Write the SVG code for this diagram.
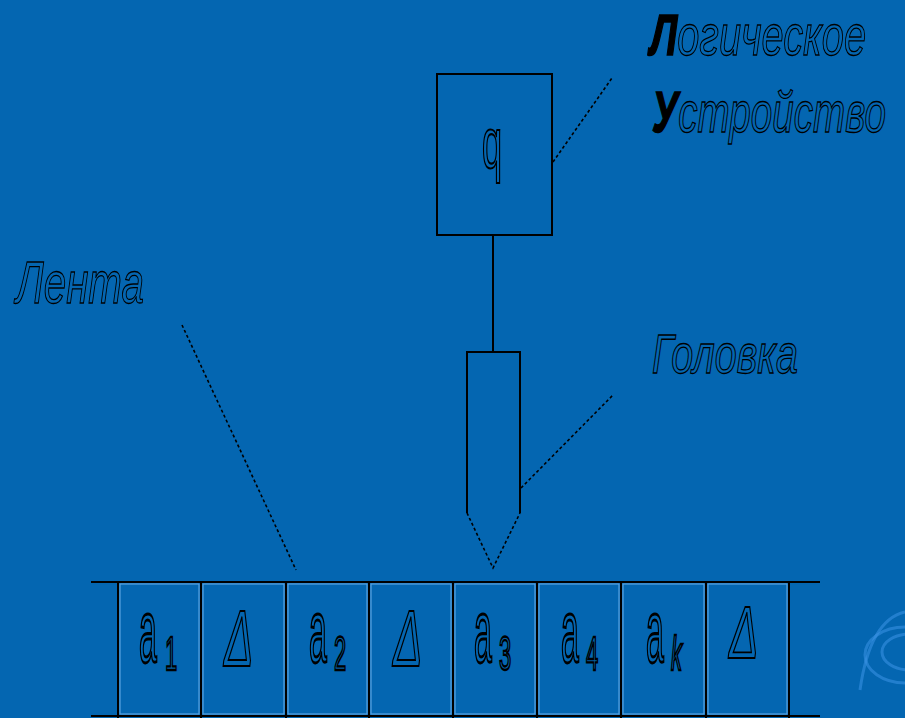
<svg xmlns="http://www.w3.org/2000/svg" width="905" height="718" viewBox="0 0 905 718">
<style>
.ln{stroke:#000;stroke-width:2;fill:none}
.dot{stroke:#000;stroke-width:1.6;fill:none;stroke-dasharray:3 2.5}
.lbl{font-family:"Liberation Sans",Arial,sans-serif;font-style:italic;fill:none;stroke:#000;stroke-width:1.1;vector-effect:non-scaling-stroke}
.cap{fill:#000}
.cell{fill:none;stroke:#5aa2e0;stroke-width:1.2}
.sym{font-family:"Liberation Sans",Arial,sans-serif;fill:none;stroke:#000;stroke-width:1.1}
.sw{fill:none;stroke:#3d93e6;stroke-opacity:0.55;stroke-width:3}
</style>
<rect width="905" height="718" fill="#0466b1"/>
<g id="decor">
<ellipse class="sw" cx="905" cy="655" rx="40" ry="28"/>
<ellipse class="sw" cx="910" cy="652" rx="28" ry="18"/>
<path class="sw" d="M860,690 Q870,620 905,612"/>
</g>
<g id="labels">
<text class="lbl" transform="translate(650,55) scale(1,1.45)" textLength="216" lengthAdjust="spacingAndGlyphs" font-size="40"><tspan class="cap" font-weight="bold">Л</tspan>огическое</text>
<text class="lbl" transform="translate(652,132) scale(1,1.45)" textLength="234" lengthAdjust="spacingAndGlyphs" font-size="40"><tspan class="cap" font-weight="bold">У</tspan>стройство</text>
<text class="lbl" transform="translate(16,303) scale(1,1.4)" textLength="128" lengthAdjust="spacingAndGlyphs" font-size="42">Лента</text>
<text class="lbl" transform="translate(652,373) scale(1,1.4)" textLength="146" lengthAdjust="spacingAndGlyphs" font-size="40">Головка</text>
</g>
<g id="logic-device">
<rect class="ln" x="437" y="74" width="115" height="161"/>
<text class="sym" transform="translate(482,168) scale(1,2)" font-size="36">q</text>
</g>
<g id="head">
<path class="ln" d="M467,513 V352 H520 V513"/>
<path class="dot" d="M467,513 L493,568 L520,513"/>
</g>
<g id="connectors">
<line class="ln" x1="493" y1="235" x2="493" y2="352"/>
<line class="dot" x1="553" y1="162" x2="612" y2="78"/>
<line class="dot" x1="521" y1="488" x2="613" y2="395"/>
<line class="dot" x1="182" y1="325" x2="296" y2="570"/>
</g>
<g id="tape">
<line class="ln" x1="91" y1="582" x2="820" y2="582"/>
<line class="ln" x1="91" y1="716" x2="820" y2="716"/>
<g class="ln">
<line x1="118" y1="582" x2="118" y2="718"/>
<line x1="201" y1="582" x2="201" y2="718"/>
<line x1="286" y1="582" x2="286" y2="718"/>
<line x1="369" y1="582" x2="369" y2="718"/>
<line x1="453" y1="582" x2="453" y2="718"/>
<line x1="537" y1="582" x2="537" y2="718"/>
<line x1="621" y1="582" x2="621" y2="718"/>
<line x1="706" y1="582" x2="706" y2="718"/>
<line x1="789" y1="582" x2="789" y2="718"/>
</g>
<rect class="cell" x="120" y="584" width="79" height="130"/>
<rect class="cell" x="203" y="584" width="81" height="130"/>
<rect class="cell" x="288" y="584" width="79" height="130"/>
<rect class="cell" x="371" y="584" width="80" height="130"/>
<rect class="cell" x="455" y="584" width="80" height="130"/>
<rect class="cell" x="539" y="584" width="80" height="130"/>
<rect class="cell" x="623" y="584" width="81" height="130"/>
<rect class="cell" x="708" y="584" width="79" height="130"/>
</g>
<g id="cell-1"><text class="sym" transform="translate(139,662) scale(1,2.8)" font-size="32">a</text><text class="sym" transform="translate(165,670) scale(1,2.2)" font-size="22">1</text></g>
<g id="cell-2"><text class="sym" transform="translate(224,666) scale(1,1.8)" font-size="44" font-style="italic">Δ</text></g>
<g id="cell-3"><text class="sym" transform="translate(309,662) scale(1,2.8)" font-size="32">a</text><text class="sym" transform="translate(334,670) scale(1,2.2)" font-size="22">2</text></g>
<g id="cell-4"><text class="sym" transform="translate(393,666) scale(1,1.8)" font-size="44" font-style="italic">Δ</text></g>
<g id="cell-5"><text class="sym" transform="translate(474,662) scale(1,2.8)" font-size="32">a</text><text class="sym" transform="translate(499,670) scale(1,2.2)" font-size="22">3</text></g>
<g id="cell-6"><text class="sym" transform="translate(561,662) scale(1,2.8)" font-size="32">a</text><text class="sym" transform="translate(586,670) scale(1,2.2)" font-size="22">4</text></g>
<g id="cell-7"><text class="sym" transform="translate(646,662) scale(1,2.8)" font-size="32">a</text><text class="sym" transform="translate(671,670) scale(1,2.2)" font-size="22" font-style="italic">k</text></g>
<g id="cell-8"><text class="sym" transform="translate(729,658) scale(1,1.7)" font-size="44" font-style="italic">Δ</text></g>
</svg>
